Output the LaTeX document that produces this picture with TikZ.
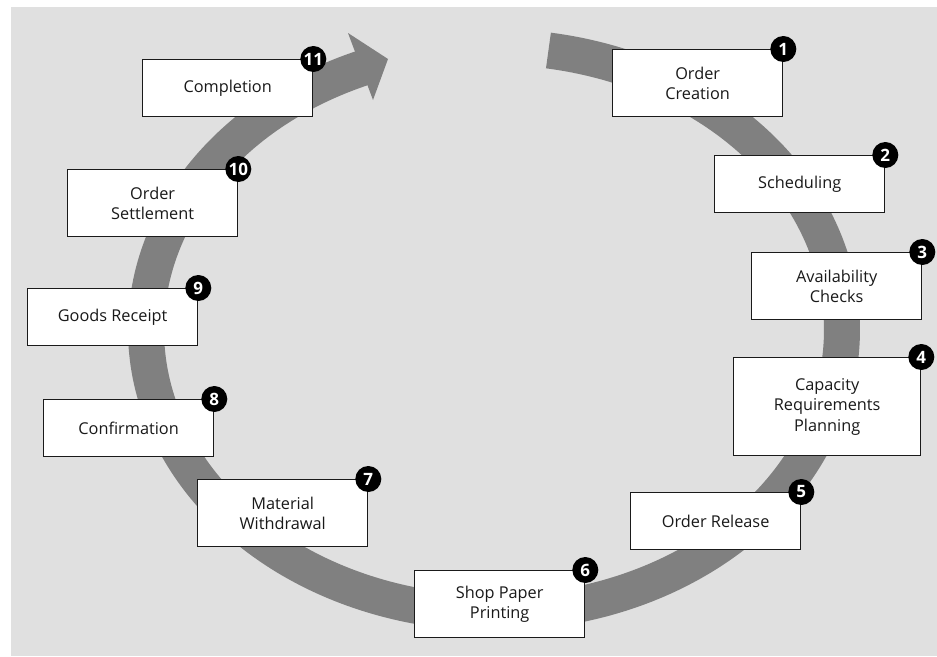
\documentclass[tikz,border=0pt]{standalone}
\usepackage{fontspec}
\setmainfont{Open Sans}
\usetikzlibrary{calc}
\definecolor{panel}{HTML}{E0E0E0}
\definecolor{bandgray}{HTML}{808080}
\definecolor{boxline}{HTML}{1A1A1A}
\begin{document}
\begin{tikzpicture}[x=1pt,y=-1pt,
  stepbox/.style={draw=boxline, line width=1.3pt, fill=white, align=center,
    text=black!90, font=\fontsize{16.3}{20.5}\selectfont, inner sep=0pt,
    anchor=north west, minimum width=170pt, minimum height=57pt},
  twoline/.style={minimum height=67pt},
  badge/.style={circle, fill=black, text=white, inner sep=0pt, minimum size=26pt,
    font=\bfseries\fontsize{17}{17}\selectfont}]
\useasboundingbox (0,0) rectangle (937,656);
% grey panel
\fill[panel] (11,7) rectangle (937,656);

% the cycle band, running clockwise from the top
\draw[bandgray, line width=36pt, line join=round]
  plot[domain=-81:248, samples=300, variable=\t]
  ({494+348*cos(\t)},{330+283*sin(\t)});
% arrow head at the end of the band
\coordinate (hu) at (348,33);
\coordinate (ht) at (388,59);
\coordinate (hl) at (373,100);
\fill[bandgray] (hu) -- (ht) -- (hl) -- cycle;

% process steps
\node[stepbox, twoline] (s1) at (612,49) {Order\\Creation};
\node[stepbox] (s2) at (714,155) {Scheduling};
\node[stepbox, twoline] (s3) at (751,252) {Availability\\Checks};
\node[stepbox, minimum width=187pt, minimum height=98pt] (s4) at (733,357) {Capacity\\Requirements\\Planning};
\node[stepbox] (s5) at (630,492) {Order Release};
\node[stepbox, twoline] (s6) at (414,570) {Shop Paper\\Printing};
\node[stepbox, twoline] (s7) at (197,479) {Material\\Withdrawal};
\node[stepbox] (s8) at (43,399) {Confirmation};
\node[stepbox] (s9) at (27,288) {Goods Receipt};
\node[stepbox, twoline] (s10) at (67,169) {Order\\Settlement};
\node[stepbox] (s11) at (142,59) {Completion};

% step numbers
\foreach \i in {1,...,11}
  \node[badge] (b\i) at (s\i.north east) {\i};
\end{tikzpicture}
\end{document}
